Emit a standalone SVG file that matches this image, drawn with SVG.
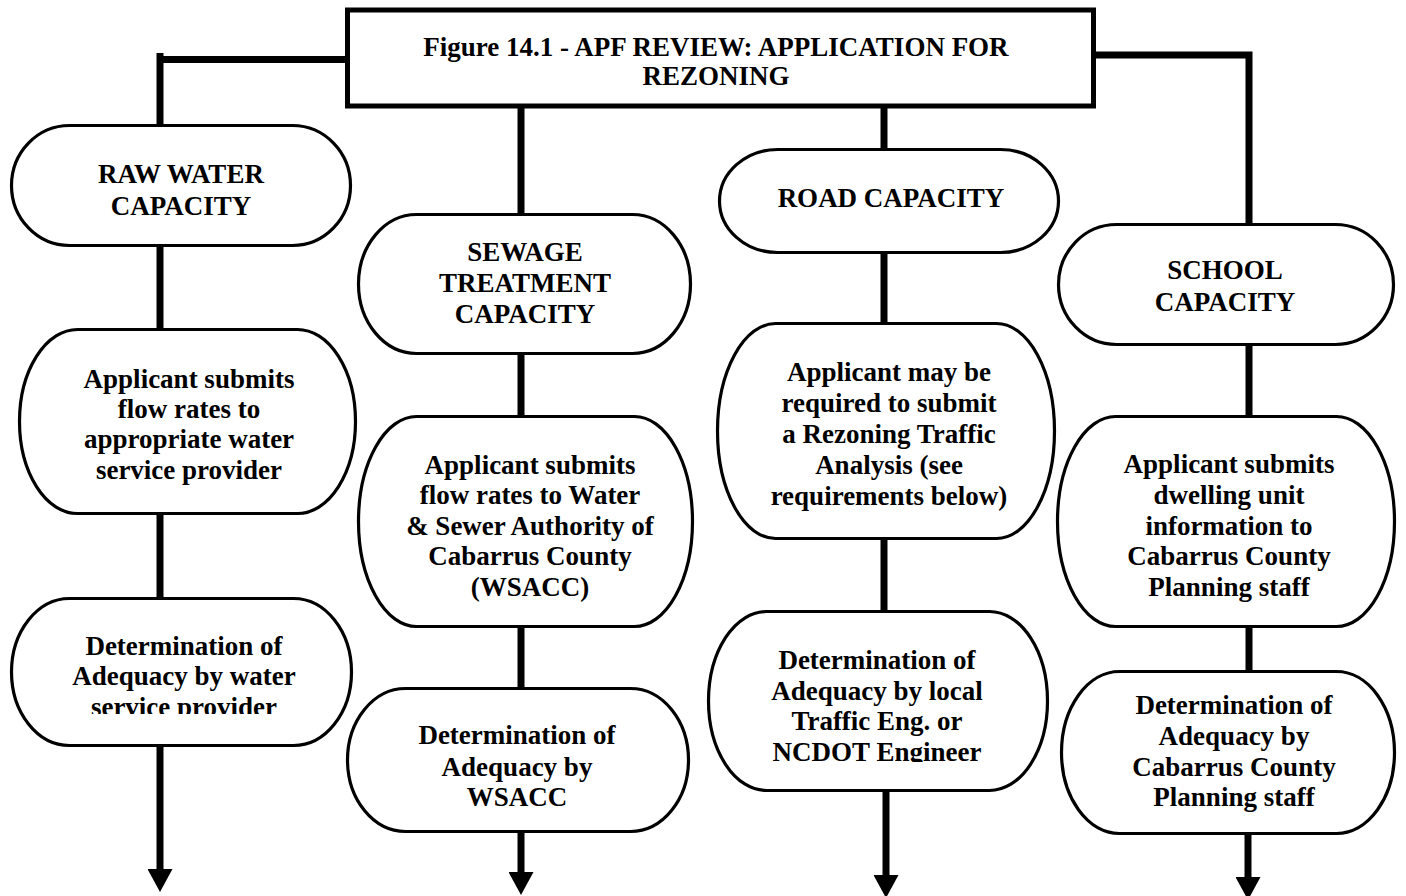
<svg xmlns="http://www.w3.org/2000/svg" width="1406" height="896" viewBox="0 0 1406 896">
<style>
.box{fill:#fff;stroke:#000;stroke-width:3.2}
.title{fill:#fff;stroke:#000;stroke-width:5}
.t{font-family:"Liberation Serif","Times New Roman",serif;font-weight:bold;font-size:27px;fill:#000;text-anchor:middle}
.c{stroke:#000;stroke-width:7;fill:none}
</style>
<defs>
<marker id="ah" markerUnits="userSpaceOnUse" markerWidth="23" markerHeight="25" viewBox="0 -12.5 23 25" refX="0" refY="0" orient="auto">
<path d="M0,-12.5 L23,0 L0,12.5 z" fill="#000"/>
</marker>
<clipPath id="clipRaw3"><rect x="0" y="590" width="370" height="124"/></clipPath>
<clipPath id="clipRoad3"><rect x="700" y="600" width="360" height="162"/></clipPath>
</defs>
<g id="connectors">
<line class="c" x1="160" y1="53" x2="160" y2="125"/>
<line class="c" x1="160" y1="59.5" x2="346" y2="59.5"/>
<path class="c" d="M1094,55 H1249 V224"/>
<line class="c" x1="521" y1="107" x2="521" y2="214"/>
<line class="c" x1="884" y1="107" x2="884" y2="149"/>
<line class="c" x1="160" y1="246" x2="160" y2="329"/>
<line class="c" x1="160" y1="514" x2="160" y2="598"/>
<line class="c" x1="160" y1="746" x2="160" y2="869" marker-end="url(#ah)"/>
<line class="c" x1="521" y1="354" x2="521" y2="416"/>
<line class="c" x1="521" y1="627" x2="521" y2="688"/>
<line class="c" x1="521" y1="832" x2="521" y2="872" marker-end="url(#ah)"/>
<line class="c" x1="884" y1="253" x2="884" y2="323"/>
<line class="c" x1="884" y1="539" x2="884" y2="611"/>
<line class="c" x1="886" y1="791" x2="886" y2="875" marker-end="url(#ah)"/>
<line class="c" x1="1249" y1="345" x2="1249" y2="416"/>
<line class="c" x1="1249" y1="627" x2="1249" y2="671"/>
<line class="c" x1="1248" y1="834" x2="1248" y2="877" marker-end="url(#ah)"/>
</g>
<g id="title">
<rect class="title" x="347.5" y="10" width="746" height="96"/>
<text class="t" x="716" y="56">Figure 14.1 - APF REVIEW: APPLICATION FOR</text>
<text class="t" x="716" y="85">REZONING</text>
</g>
<g id="raw1">
<rect class="box" x="11.5" y="125.5" width="339" height="120" rx="58" ry="60"/>
<text class="t" x="181" y="183">RAW WATER</text>
<text class="t" x="181" y="215">CAPACITY</text>
</g>
<g id="raw2">
<rect class="box" x="19.5" y="329.5" width="336" height="184" rx="58" ry="92"/>
<text class="t" x="189" y="388">Applicant submits</text>
<text class="t" x="189" y="418">flow rates to</text>
<text class="t" x="189" y="448">appropriate water</text>
<text class="t" x="189" y="479">service provider</text>
</g>
<g id="raw3">
<rect class="box" x="11.5" y="598.5" width="340" height="147" rx="58" ry="73.5"/>
<text class="t" x="184" y="655">Determination of</text>
<text class="t" x="184" y="685">Adequacy by water</text>
<text class="t" x="184" y="716" clip-path="url(#clipRaw3)">service provider</text>
</g>
<g id="sew1">
<rect class="box" x="358.5" y="214.5" width="332" height="139" rx="58" ry="69.5"/>
<text class="t" x="525" y="261">SEWAGE</text>
<text class="t" x="525" y="292">TREATMENT</text>
<text class="t" x="525" y="323">CAPACITY</text>
</g>
<g id="sew2">
<rect class="box" x="358.5" y="416.5" width="334" height="210" rx="58" ry="105"/>
<text class="t" x="530" y="474">Applicant submits</text>
<text class="t" x="530" y="504">flow rates to Water</text>
<text class="t" x="530" y="535">&amp; Sewer Authority of</text>
<text class="t" x="530" y="565">Cabarrus County</text>
<text class="t" x="530" y="596">(WSACC)</text>
</g>
<g id="sew3">
<rect class="box" x="347.5" y="688.5" width="341" height="143" rx="58" ry="71.5"/>
<text class="t" x="517" y="744">Determination of</text>
<text class="t" x="517" y="776">Adequacy by</text>
<text class="t" x="517" y="806">WSACC</text>
</g>
<g id="road1">
<rect class="box" x="719.5" y="149.5" width="339" height="103" rx="58" ry="51.5"/>
<text class="t" x="891" y="207">ROAD CAPACITY</text>
</g>
<g id="road2">
<rect class="box" x="717.5" y="323.5" width="337" height="215" rx="58" ry="107.5"/>
<text class="t" x="889" y="381">Applicant may be</text>
<text class="t" x="889" y="412">required to submit</text>
<text class="t" x="889" y="443">a Rezoning Traffic</text>
<text class="t" x="889" y="474">Analysis (see</text>
<text class="t" x="889" y="505">requirements below)</text>
</g>
<g id="road3">
<rect class="box" x="708.5" y="611.5" width="339" height="179" rx="58" ry="89.5"/>
<text class="t" x="877" y="669">Determination of</text>
<text class="t" x="877" y="700">Adequacy by local</text>
<text class="t" x="877" y="730">Traffic Eng. or</text>
<text class="t" x="877" y="761" clip-path="url(#clipRoad3)">NCDOT Engineer</text>
</g>
<g id="school1">
<rect class="box" x="1058.5" y="224.5" width="335" height="120" rx="58" ry="60"/>
<text class="t" x="1225" y="279">SCHOOL</text>
<text class="t" x="1225" y="311">CAPACITY</text>
</g>
<g id="school2">
<rect class="box" x="1057.5" y="416.5" width="337" height="210" rx="58" ry="105"/>
<text class="t" x="1229" y="473">Applicant submits</text>
<text class="t" x="1229" y="504">dwelling unit</text>
<text class="t" x="1229" y="535">information to</text>
<text class="t" x="1229" y="565">Cabarrus County</text>
<text class="t" x="1229" y="596">Planning staff</text>
</g>
<g id="school3">
<rect class="box" x="1061.5" y="671.5" width="333" height="162" rx="58" ry="81"/>
<text class="t" x="1234" y="714">Determination of</text>
<text class="t" x="1234" y="745">Adequacy by</text>
<text class="t" x="1234" y="776">Cabarrus County</text>
<text class="t" x="1234" y="806">Planning staff</text>
</g>
</svg>
